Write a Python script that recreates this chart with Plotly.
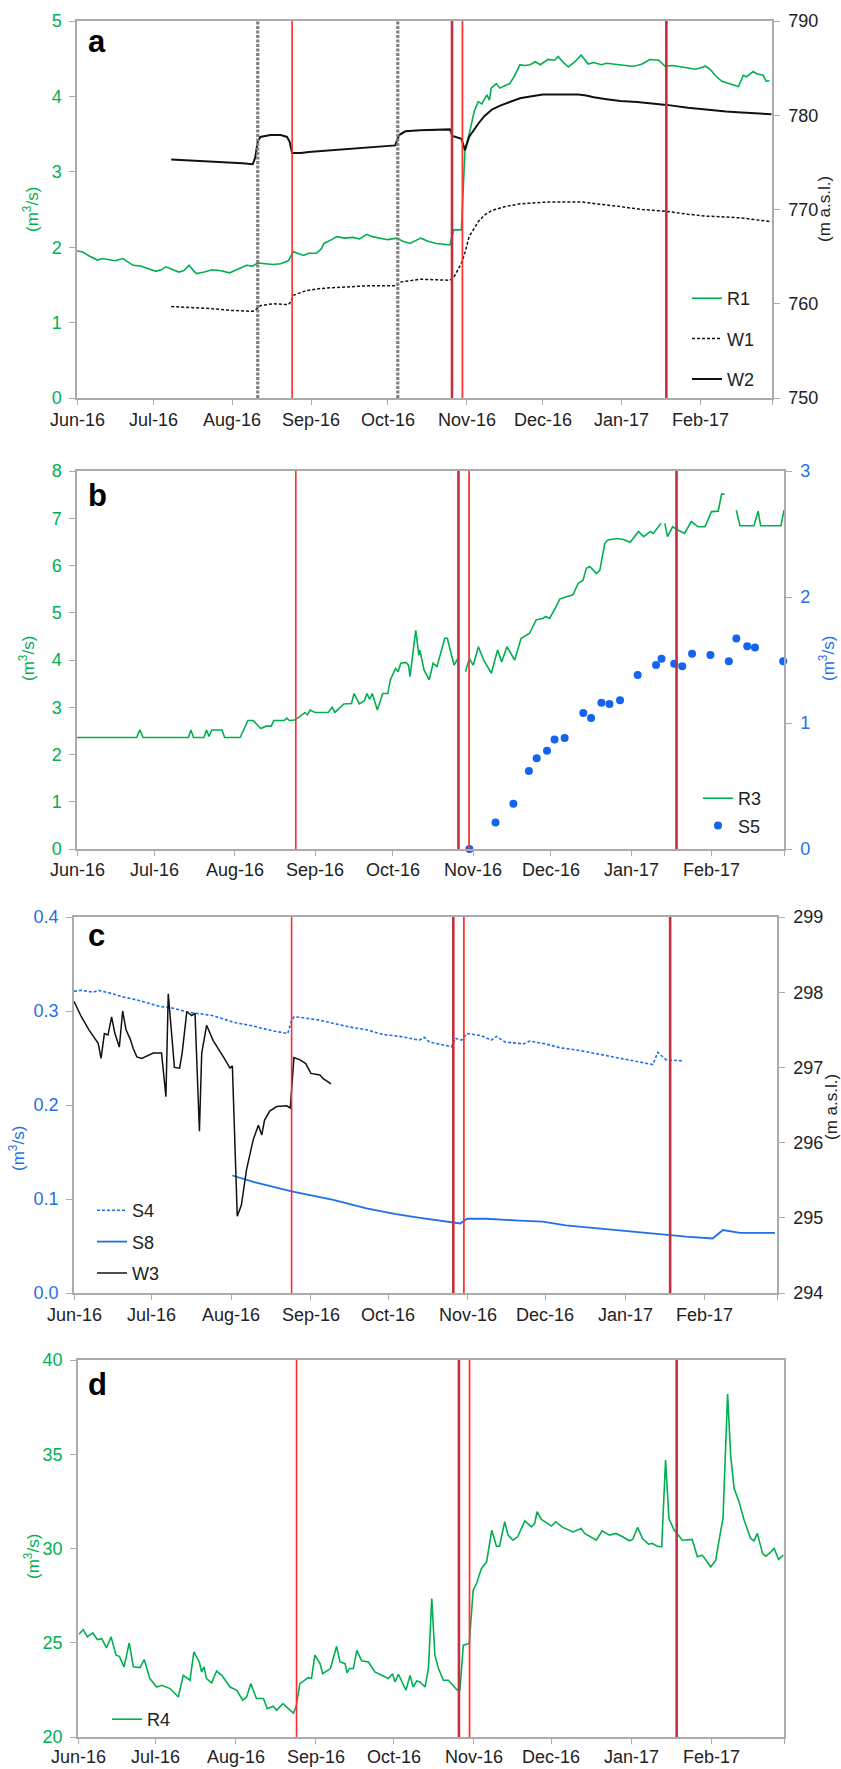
import pandas as pd
import plotly.graph_objects as go

# ---------------- data (day offsets from 2016-06-01, values) ----------------
BASE = "2016-06-01"
month_ticks = ["2016-06-01", "2016-07-01", "2016-08-01", "2016-09-01", "2016-10-01",
               "2016-11-01", "2016-12-01", "2017-01-01", "2017-02-01", "2017-03-01"]
month_labels = ["Jun-16", "Jul-16", "Aug-16", "Sep-16", "Oct-16",
                "Nov-16", "Dec-16", "Jan-17", "Feb-17", ""]

# event lines (days)
red_events = [84.5, 147.3, 151.4, 231.5]
red_colors = ["#FF2B2B", "#C4303F", "#FF3535", "#C4303F"]
red_widths = [1.6, 2.6, 1.8, 2.6]
grey_events = [71.0, 126.0]

# panel a
r1_pts = [(0,1.95),(2,1.94),(5,1.88),(8,1.83),(10,1.85),(12,1.84),(15,1.82),(18,1.85),(20,1.81),
          (22,1.76),(25,1.75),(28,1.72),(31,1.68),(33,1.70),(35,1.74),(37,1.71),(40,1.67),(42,1.69),
          (44,1.76),(46,1.68),(47,1.65),(50,1.67),(53,1.70),(56,1.69),(58,1.68),(60,1.66),(62,1.69),
          (64,1.72),(66.6,1.76),(69,1.75),(71,1.79),(74,1.78),(77,1.77),(80,1.78),(83,1.82),(85,1.94),
          (87,1.91),(89,1.89),(91,1.92),(94,1.92),(96,1.98),(97,2.05),(100,2.10),(102,2.14),(105,2.12),
          (108.5,2.13),(111,2.11),(113.8,2.17),(116,2.14),(119,2.12),(122,2.10),(125.6,2.12),(128,2.08),
          (130.8,2.05),(133,2.09),(135,2.12),(138,2.08),(141,2.05),(144,2.04),(146.5,2.03),(148,2.23),
          (151,2.23),(152.4,3.29),(154.4,3.55),(156,3.80),(157.6,3.93),(159,3.90),(161,4.02),(162,3.95),
          (162.7,4.11),(164.7,4.17),(166,4.11),(168,4.14),(170,4.17),(172,4.28),(174,4.42),(176,4.41),
          (178,4.42),(180,4.46),(182,4.42),(185,4.49),(187.6,4.48),(189,4.53),(191,4.45),(193,4.39),
          (195.6,4.46),(198,4.55),(200.8,4.43),(203,4.45),(206,4.42),(208,4.44),(211,4.43),(214,4.42),
          (218,4.40),(220,4.41),(222,4.43),(225,4.49),(228.5,4.48),(231,4.40),(234,4.41),(237.6,4.39),
          (240,4.38),(243,4.36),(245,4.38),(247,4.40),(249,4.35),(250.6,4.28),(253.3,4.20),(256.5,4.17),
          (258,4.15),(259.8,4.13),(261,4.22),(261.7,4.28),(263,4.26),(265.6,4.33),(267,4.30),(269.5,4.28),
          (270.8,4.20),(272,4.21)]
w1_pts = [(37,759.7),(45,759.6),(52,759.5),(60,759.3),(65,759.25),(69,759.2),(70,759.3),(72,759.8),
          (77,760.0),(83,759.9),(84,760.2),(85,760.9),(90,761.4),(95,761.6),(100,761.7),(113.8,761.9),
          (125.6,761.9),(127,762.3),(134.7,762.6),(146.5,762.5),(148,762.8),(151,764.3),(152.5,765.5),
          (154,767.1),(157.6,768.7),(160,769.4),(163,769.9),(168,770.3),(174,770.6),(185,770.8),
          (198,770.8),(205,770.6),(213.5,770.3),(222,770.0),(231.6,769.8),(240,769.5),(247,769.3),
          (255,769.2),(261,769.1),(267,768.9),(272.8,768.7)]
w2_pts = [(37,775.3),(45,775.2),(52,775.1),(60,775.0),(65,774.9),(69,774.8),(70,775.5),(71,777.2),
          (72,777.7),(76,777.9),(80,777.9),(82.5,777.7),(83.5,777.2),(84.5,776.0),(88,776.0),(91,776.1),
          (100,776.3),(110,776.5),(118,776.7),(125,776.8),(126.5,777.9),(129,778.3),(134.7,778.4),
          (146.5,778.5),(147.5,777.8),(151,777.5),(152.4,776.3),(154,777.7),(157.6,779.1),(160,779.9),
          (163,780.6),(166,781.0),(170,781.4),(174,781.8),(178,782.0),(183,782.2),(187.6,782.2),
          (197,782.2),(200,782.1),(203,781.9),(208,781.7),(213.5,781.5),(220,781.4),(231.6,781.1),
          (240,780.8),(247,780.6),(255,780.4),(261,780.3),(267,780.2),(272.8,780.1)]

# panel b
r3_pts = [(0,2.36),(23,2.36),(24.3,2.52),(25.5,2.36),(43,2.36),(44,2.52),(45,2.36),(49,2.36),(50,2.52),
          (51,2.38),(52,2.52),(56,2.52),(57,2.36),(63,2.36),(66,2.72),(68,2.72),(71,2.55),(73,2.60),
          (75,2.60),(76,2.72),(80,2.72),(81,2.77),(82,2.72),(84,2.73),(86,2.80),(88,2.89),(89,2.84),
          (90,2.94),(92,2.89),(97,2.89),(98.5,3.00),(99.6,2.89),(103,3.07),(106,3.08),(107,3.29),
          (109,3.07),(111,3.14),(112,3.29),(113,3.17),(114,3.29),(116,2.94),(118,3.29),(120,3.29),
          (121,3.58),(123,3.82),(124,3.75),(125,3.93),(127,3.95),(128,3.89),(128.6,3.65),(130.8,4.63),
          (132,4.10),(132.4,4.21),(134,3.79),(136,3.58),(137.5,3.93),(139,3.86),(142,4.46),(143,4.46),
          (145.6,3.89),(147,4.03),(148.5,None),(150,3.75),(151.5,4.03),(153,3.89),(155,4.28),(157,4.00),
          (160,3.72),(162.4,4.21),(164,3.96),(166,4.28),(169,4.00),(171.5,4.46),(174.7,4.56),(177.3,4.85),
          (179.9,4.88),(181,4.92),(182.5,4.88),(185,5.13),(186.4,5.29),(189,5.34),(191.5,5.38),
          (193.5,5.62),(195.4,5.69),(196.7,5.94),(198,5.98),(200.6,5.83),(201.9,5.90),(203.8,6.47),
          (205,6.54),(208.4,6.57),(211,6.55),(213.6,6.49),(216.8,6.72),(218.8,6.61),(221.4,6.72),
          (222.5,6.68),(225,6.86),(225.5,6.89),(226.2,None),(227,6.89),(228,6.61),(230,6.82),(232,6.75),
          (234.6,6.68),(237.2,6.93),(239.8,6.82),(242.5,6.82),(245,7.14),(247.6,7.15),(248.9,7.51),
          (250,7.51),(252,None),(254.6,7.17),(256,6.84),(261.4,6.84),(263,7.15),(264,6.84),(271.8,6.84),
          (273,7.17)]
s5_pts = [(151.5,0.00),(161.6,0.21),(168.5,0.36),(174.5,0.62),(177.5,0.72),(181.5,0.78),(184.4,0.87),
          (188.3,0.88),(195.5,1.08),(198.5,1.04),(202.5,1.16),(205.6,1.15),(209.7,1.18),(216.5,1.38),
          (223.6,1.46),(225.7,1.51),(230.6,1.47),(233.7,1.45),(237.5,1.55),(244.6,1.54),(251.7,1.49),
          (254.6,1.67),(258.8,1.61),(261.8,1.60),(272.7,1.49)]

# panel c
s4_pts = [(0,0.321),(3,0.322),(7.5,0.320),(9.4,0.322),(14,0.319),(19,0.315),(25.6,0.311),(33,0.305),
          (38.6,0.303),(43.8,0.299),(49,0.297),(54,0.295),(62,0.288),(69.6,0.284),(77,0.279),(83,0.276),
          (84.5,0.290),(85.5,0.294),(94,0.291),(100.7,0.287),(107,0.283),(113.6,0.280),(120,0.275),
          (126.6,0.273),(134,0.269),(136,0.272),(138,0.267),(146.6,0.262),(148,0.271),(150.5,0.269),
          (152.6,0.276),(157.8,0.274),(162,0.269),(164,0.273),(167.4,0.267),(174.5,0.265),(177,0.268),
          (183,0.265),(188.6,0.261),(196.4,0.258),(204,0.254),(212,0.250),(219.6,0.246),(224.8,0.243),
          (226.7,0.256),(230,0.248),(236.4,0.247)]
s8_pts = [(61.5,0.125),(70,0.118),(84.5,0.108),(100.7,0.099),(113.6,0.090),(125,0.084),(134.4,0.080),
          (142,0.077),(147.4,0.075),(150,0.074),(152.6,0.079),(160,0.079),(173,0.077),(182,0.076),
          (191,0.072),(206.5,0.068),(224.8,0.063),(237.7,0.060),(248,0.058),(252,0.067),(258.6,0.064),
          (272.2,0.064)]
w3_pts = [(0,297.88),(2.6,297.69),(5.8,297.50),(8.4,297.36),(9.4,297.32),(10.5,297.12),(11.8,297.45),
          (13.2,297.43),(14.6,297.67),(15.9,297.45),(17.6,297.27),(18.9,297.75),(20.2,297.50),(21.8,297.38),
          (23,297.25),(24.4,297.14),(26.3,297.12),(30.8,297.19),(34,297.19),(35.7,296.61),(36.6,297.98),
          (39,297.00),(41,296.99),(42,297.19),(43.8,297.74),(45.7,297.69),(47,297.72),(48.7,296.15),
          (49.6,297.19),(51.5,297.56),(54,297.36),(58,297.14),(60.6,296.99),(61.5,297.02),(62.5,296.04),
          (63.4,295.02),(65,295.17),(67,295.64),(69.6,296.04),(71.6,296.23),(72.9,296.10),(74,296.30),
          (76,296.42),(78.7,296.48),(82.6,296.49),(84,296.46),(85.4,297.13),(87.8,297.10),(90,297.05),
          (92,296.92),(95.5,296.90),(96.8,296.85),(99.8,296.78)]

# panel d
r4_pts = [(0.4,25.45),(2,25.70),(3.6,25.31),(5.7,25.52),(7.5,25.17),(9.2,25.22),(11,24.73),(12.8,25.31),
          (14.7,24.34),(16,24.28),(17.8,23.72),(19.8,24.99),(21.4,23.72),(24,23.68),(25.6,24.11),(27.8,23.10),
          (30.4,22.65),(32.4,22.74),(35.6,22.57),(38.8,22.12),(40.7,23.27),(43.3,23.01),(44.8,24.51),
          (46.9,23.98),(47.8,23.45),(48.7,23.72),(49.7,23.10),(51.7,22.87),(53.6,23.50),(55.6,23.27),
          (58.8,22.65),(61.4,22.48),(63.7,21.95),(65.2,22.12),(66.8,22.83),(69,22.04),(71.7,22.04),
          (73.2,21.50),(75.5,21.63),(76.8,21.42),(79.2,21.77),(83.3,21.27),(84.3,21.59),(85.8,22.83),
          (89,23.15),(90.3,23.10),(91.6,24.34),(93.6,23.89),(94.6,23.36),(97.6,23.63),(100,24.81),
          (101.3,23.98),(103.3,23.89),(104,23.40),(105,23.63),(106.5,23.63),(107.8,24.60),(109.7,24.04),
          (112.3,23.98),(114.8,23.45),(120,23.10),(121.6,23.36),(122.6,22.92),(123.9,23.33),(126.8,22.48),
          (128.4,23.27),(129.6,22.65),(131,22.97),(132.2,22.92),(134.2,22.65),(135.5,23.63),(136.8,27.35),
          (138,24.34),(139.4,23.63),(141.3,23.01),(143.2,23.01),(146.5,22.51),(147.7,22.51),(149,24.87),
          (151.3,24.96),(152.8,27.79),(154.1,28.14),(156,28.94),(158,29.29),(160,30.97),(161.8,30.12),
          (163,30.12),(165,31.42),(166.3,30.71),(168.2,30.44),(170,30.62),(172.8,31.47),(175.3,31.15),
          (176.6,31.33),(177.5,31.95),(179.2,31.54),(183.1,31.19),(184.7,31.42),(187.5,31.12),(191.4,30.88),
          (194.6,31.06),(195.9,30.80),(200.4,30.44),(202.7,30.94),(205.5,30.71),(208,30.80),(210.6,30.62),
          (213.2,30.41),(214.5,30.48),(216.4,31.12),(218.3,30.53),(220.6,30.23),(222,30.27),(224,30.12),
          (225.7,30.09),(227.2,34.69),(228.5,31.59),(230.4,31.01),(233.7,30.44),(237.5,30.48),(239.5,29.56),
          (241.4,29.65),(244.7,29.03),(246.6,29.38),(247.9,30.44),(249.4,31.59),(251.2,38.19),(252.4,34.87),
          (253.7,33.19),(255.6,32.48),(257.6,31.50),(260.1,30.53),(261.4,30.41),(262.7,30.80),(264.7,29.73),
          (266,29.59),(267.9,29.82),(269.2,30.00),(270.9,29.42),(272.7,29.65)]

# ---------------- styling ----------------
GREEN = "#00B050"
BLUE = "#1F6FE8"
DOTBLUE = "#1464F0"
BLACK = "#111111"
AXGREY = "#ABABAB"
FONT = "Arial, Liberation Sans, sans-serif"
W, H = 841, 1769

base = pd.Timestamp(BASE)
def to_x(days):
    return [(base + pd.Timedelta(days=float(d))).isoformat() for d in days]
def split(pts):
    return to_x([p[0] for p in pts]), [p[1] for p in pts]
def px(x):
    return x / W
def py(y):
    return 1 - y / H

# panel boxes in pixels (left, top, right, bottom)
boxes = {
    "a": (77, 21, 772, 398),
    "b": (77, 471, 784, 849),
    "c": (74, 917, 777, 1293),
    "d": (78, 1360, 784, 1737),
}

fig = go.Figure()

def add_line(pts, name, color, width, xa, ya, legend, dash=None, group=None):
    x, y = split(pts)
    fig.add_trace(go.Scatter(x=x, y=y, mode="lines", name=name, xaxis=xa, yaxis=ya,
                             line=dict(color=color, width=width, dash=dash),
                             legend=legend, legendgroup=group or name, connectgaps=False))

# panel a
add_line(r1_pts, "R1", GREEN, 1.6, "x", "y", "legend")
add_line(w1_pts, "W1", BLACK, 1.5, "x", "y2", "legend", dash="3px,2px")
add_line(w2_pts, "W2", BLACK, 2.0, "x", "y2", "legend")
# panel b
add_line(r3_pts, "R3", GREEN, 1.6, "x2", "y3", "legend2")
sx, sy = split(s5_pts)
fig.add_trace(go.Scatter(x=sx, y=sy, mode="markers", name="S5", xaxis="x2", yaxis="y4",
                         marker=dict(color=DOTBLUE, size=8), legend="legend2", legendgroup="S5",
                         cliponaxis=False))
# panel c
add_line(s4_pts, "S4", BLUE, 1.6, "x3", "y5", "legend3", dash="3px,2px")
add_line(s8_pts, "S8", BLUE, 1.8, "x3", "y5", "legend3")
add_line(w3_pts, "W3", BLACK, 1.5, "x3", "y6", "legend3")
# panel d
add_line(r4_pts, "R4", GREEN, 1.6, "x4", "y7", "legend4")

def xaxis_cfg(key, anchor):
    l, t, r, b = boxes[key]
    return dict(type="date", domain=[px(l), px(r)], anchor=anchor, automargin=False,
                range=[month_ticks[0], month_ticks[-1]],
                tickmode="array", tickvals=month_ticks, showticklabels=False,
                ticks="outside", ticklen=5, tickcolor=AXGREY, tickwidth=1.2,
                showline=True, linecolor=AXGREY, linewidth=1.5, mirror=True,
                showgrid=False, zeroline=False)

def yaxis_cfg(key, anchor, rng, dtick, color, side="left", overlay=None, fmt=None):
    l, t, r, b = boxes[key]
    d = dict(anchor=anchor, range=rng, dtick=dtick, tick0=rng[0], side=side, automargin=False,
             ticks="outside", ticklen=6, tickcolor=AXGREY, tickwidth=1.2,
             showline=True, linecolor=AXGREY, linewidth=1.5,
             showgrid=False, zeroline=False,
             ticklabelstandoff=5 if side == "right" else 4,
             tickfont=dict(family=FONT, size=18, color=color))
    if overlay:
        d["overlaying"] = overlay
    else:
        d["domain"] = [py(b), py(t)]
        d["mirror"] = True
    if fmt:
        d["tickformat"] = fmt
    return d

layout = dict(
    width=W, height=H, autosize=False,
    margin=dict(l=0, r=0, t=0, b=0, pad=0),
    paper_bgcolor="white", plot_bgcolor="white",
    font=dict(family=FONT, size=18, color="#222222"),
    xaxis=xaxis_cfg("a", "y"),
    xaxis2=xaxis_cfg("b", "y3"),
    xaxis3=xaxis_cfg("c", "y5"),
    xaxis4=xaxis_cfg("d", "y7"),
    yaxis=yaxis_cfg("a", "x", [0, 5], 1, GREEN),
    yaxis2=yaxis_cfg("a", "x", [750, 790], 10, "#222222", side="right", overlay="y"),
    yaxis3=yaxis_cfg("b", "x2", [0, 8], 1, GREEN),
    yaxis4=yaxis_cfg("b", "x2", [0, 3], 1, BLUE, side="right", overlay="y3"),
    yaxis5=yaxis_cfg("c", "x3", [0, 0.4], 0.1, BLUE, fmt=".1f"),
    yaxis6=yaxis_cfg("c", "x3", [294, 299], 1, "#222222", side="right", overlay="y5"),
    yaxis7=yaxis_cfg("d", "x4", [20, 40], 5, GREEN),
)

def legend_cfg(xpix, ypix, gap):
    return dict(x=px(xpix), y=py(ypix), xanchor="left", yanchor="top",
                bgcolor="rgba(0,0,0,0)", borderwidth=0, tracegroupgap=gap,
                font=dict(family=FONT, size=18, color="#222222"), itemwidth=30)

layout["legend"] = legend_cfg(687, 280, 14)
layout["legend2"] = legend_cfg(698, 780, 1)
layout["legend3"] = legend_cfg(92, 1192, 5)
layout["legend4"] = legend_cfg(107, 1701, 0)
fig.update_layout(**layout)

# event lines
shapes = []
panel_axes = [("x", "y"), ("x2", "y3"), ("x3", "y5"), ("x4", "y7")]
for xa, ya in panel_axes:
    for d, c, w in zip(red_events, red_colors, red_widths):
        xd = to_x([d])[0]
        shapes.append(dict(type="line", xref=xa, yref=ya + " domain", x0=xd, x1=xd, y0=0, y1=1,
                           line=dict(color=c, width=w)))
for d in grey_events:
    xd = to_x([d])[0]
    shapes.append(dict(type="line", xref="x", yref="y domain", x0=xd, x1=xd, y0=0, y1=1,
                       line=dict(color="#808080", width=3.2, dash="3px,1.5px")))
fig.update_layout(shapes=shapes)

ann = []
# month tick labels (placed under each panel's x axis)
panel_keys = ["a", "b", "c", "d"]
label_gap = {"a": 22, "b": 21, "c": 22, "d": 20}
for key, (xa, ya) in zip(panel_keys, panel_axes):
    bottom = boxes[key][3]
    for tv, tl in zip(month_ticks, month_labels):
        if not tl:
            continue
        ann.append(dict(text=tl, x=tv, y=py(bottom + label_gap[key]), xref=xa, yref="paper",
                        xanchor="center", yanchor="middle", showarrow=False,
                        font=dict(family=FONT, size=18, color="#222222")))
# panel letters
letters = [("a", 86, 61), ("b", 86, 515), ("c", 86, 955), ("d", 86, 1404)]
for t, x, y in letters:
    ann.append(dict(text="<b>%s</b>" % t, x=px(x), y=py(y), xref="paper", yref="paper",
                    xanchor="left", yanchor="bottom", showarrow=False,
                    font=dict(family=FONT, size=31, color="black")))
# axis titles
titles = [
    ("(m<sup>3</sup>/s)", 31, 209, GREEN),
    ("(m a.s.l.)", 825, 209, "#222222"),
    ("(m<sup>3</sup>/s)", 27, 659, GREEN),
    ("(m<sup>3</sup>/s)", 827, 659, BLUE),
    ("(m<sup>3</sup>/s)", 17, 1149, BLUE),
    ("(m a.s.l.)", 831, 1107, "#222222"),
    ("(m<sup>3</sup>/s)", 32, 1556, GREEN),
]
for t, x, y, c in titles:
    ann.append(dict(text=t, x=px(x), y=py(y), xref="paper", yref="paper",
                    xanchor="center", yanchor="middle", showarrow=False, textangle=-90,
                    font=dict(family=FONT, size=17, color=c)))
fig.update_layout(annotations=ann)

fig.write_html("out.html", config={"displayModeBar": False},
               post_script="document.body.style.margin='0px';document.body.style.overflow='hidden';")
